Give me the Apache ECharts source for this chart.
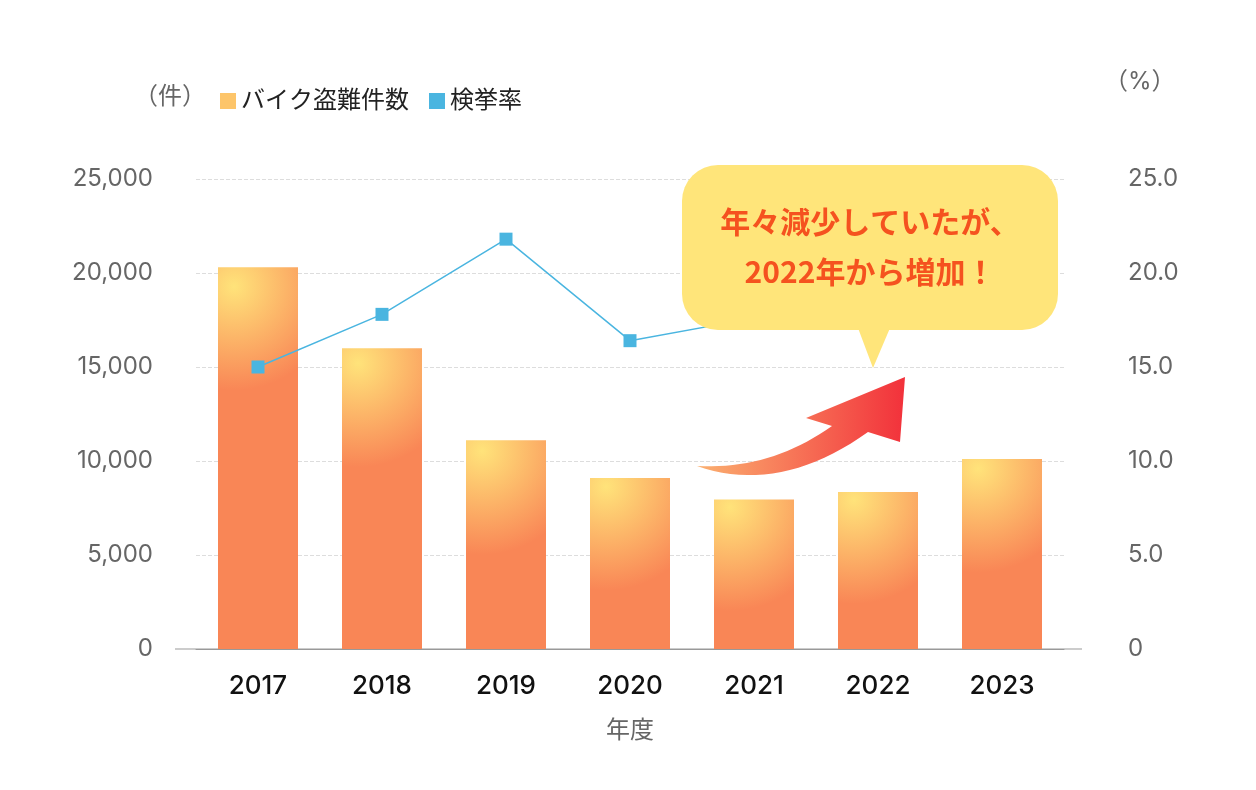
<!DOCTYPE html><html><head><meta charset="utf-8">
<script src="https://cdn.jsdelivr.net/npm/echarts@6/dist/echarts.min.js"></script>
<style>html,body{margin:0;background:#fff}#c{width:1256px;height:790px}</style></head><body><div id="c"></div>
<script>
const years=['2017','2018','2019','2020','2021','2022','2023'];
const thefts=[20300,16000,11100,9100,7950,8350,10100];
const rates=[15.0,17.8,21.8,16.4,17.6,18.4,17.8];
const font='Inter, "Noto Sans CJK JP", sans-serif';
const ch=echarts.init(document.getElementById('c'));
const barGrad={type:'radial',x:0.2,y:0.05,r:1.3,colorStops:[{offset:0,color:'#FFE37A'},{offset:1,color:'#F98656'}]};
function quad(p0,p1,p2,n){const a=[];for(let i=0;i<=n;i++){const t=i/n,u=1-t;a.push([u*u*p0[0]+2*u*t*p1[0]+t*t*p2[0],u*u*p0[1]+2*u*t*p1[1]+t*t*p2[1]]);}return a;}
const arrowPts=[].concat(quad([697,466],[780,495],[868,432],20),[[900,442],[905,377],[806,418],[832,426]],quad([832,426],[770,470],[697,466],20));
ch.setOption({
 animation:false,
 textStyle:{fontFamily:font},
 legend:{left:215,top:84,itemWidth:16,itemHeight:16,itemGap:20,icon:'rect',
  textStyle:{fontSize:24,color:'#222',fontFamily:font},
  data:[{name:'バイク盗難件数',itemStyle:{color:'#FDC56A'}},{name:'検挙率',itemStyle:{color:'#4AB5E0'}}]},
 grid:{left:196,right:192,top:179,bottom:141},
 xAxis:{type:'category',data:years,name:'年度',nameLocation:'middle',nameGap:70,
  nameTextStyle:{fontSize:24,color:'#666'},
  axisLine:{lineStyle:{color:'#999'}},axisTick:{show:false},
  axisLabel:{fontSize:26,color:'#111',margin:24,fontWeight:500}},
 yAxis:[{type:'value',min:0,max:25000,interval:5000,name:'（件）',nameLocation:'end',nameGap:0,
   nameTextStyle:{fontSize:24,color:'#666',align:'right',padding:[0,-10,70,0]},
   axisLabel:{fontSize:24,color:'#666',margin:43,formatter:v=>v.toLocaleString('en-US')},
   splitLine:{lineStyle:{type:'dashed',color:'#ddd'}}},
  {type:'value',min:0,max:25,interval:5,name:'（%）',nameTextStyle:{fontSize:24,color:'#666',align:'left',padding:[0,0,70,40]},
   axisLabel:{fontSize:24,color:'#666',margin:64,formatter:v=>v===0?'0':v.toFixed(1)},splitLine:{show:false}}],
 series:[{name:'バイク盗難件数',type:'bar',data:thefts,barWidth:80,itemStyle:{color:barGrad}},
  {name:'検挙率',type:'line',yAxisIndex:1,data:rates,symbol:'rect',symbolSize:13,
   lineStyle:{color:'#4AB5E0',width:1.5},itemStyle:{color:'#4AB5E0'},z:5}],
 graphic:[
  {type:'line',shape:{x1:175,y1:649,x2:1082,y2:649},style:{stroke:'#999',lineWidth:1},z:1},
  {type:'rect',shape:{x:682,y:165,width:376,height:165,r:36},style:{fill:'#FFE57A'},z:10},
  {type:'polygon',shape:{points:[[858,328],[890,328],[873,368]]},style:{fill:'#FFE57A'},z:10},
  {type:'text',x:870,y:247,style:{text:'年々減少していたが、\n2022年から増加！',fill:'#F5521F',font:'bold 30px "Noto Sans CJK JP"',align:'center',verticalAlign:'middle',lineHeight:50},z:11},
  {type:'polygon',shape:{points:arrowPts},
   style:{fill:{type:'linear',x:0,y:0,x2:1,y2:0,colorStops:[{offset:0,color:'#FBB070'},{offset:1,color:'#F2313B'}]}},z:10}
 ]
});
</script></body></html>
